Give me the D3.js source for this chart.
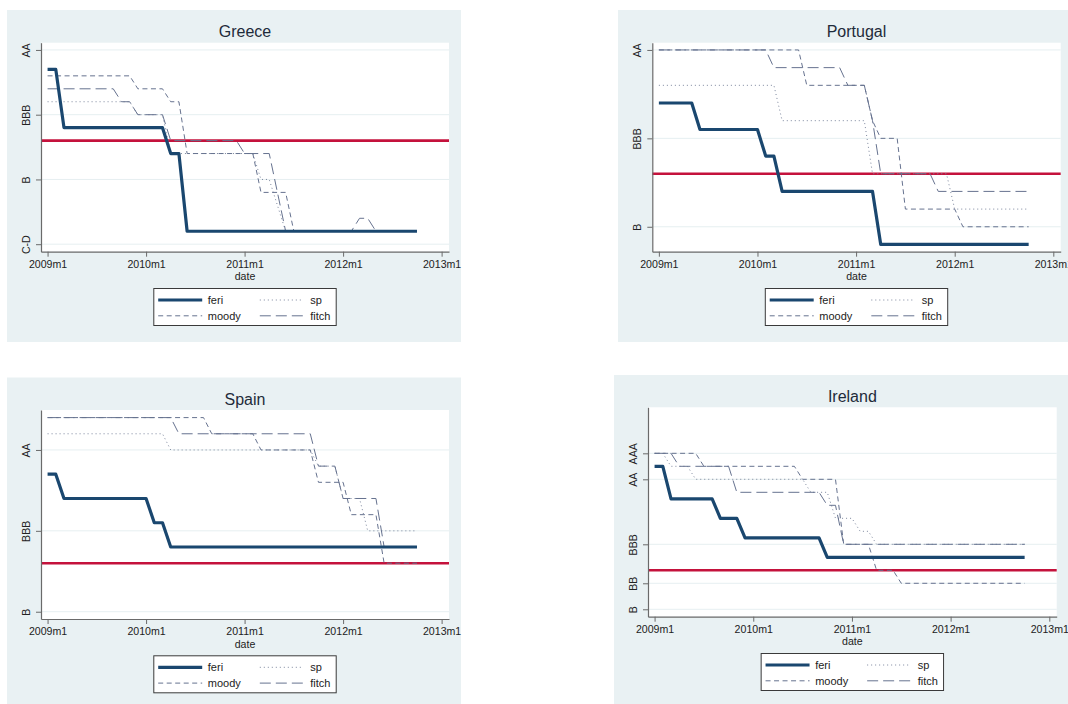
<!DOCTYPE html>
<html>
<head>
<meta charset="utf-8">
<script src="https://cdn.jsdelivr.net/npm/d3@7"></script>
<style>
  body { margin: 0; background: #fff; }
  text { font-family: "Liberation Sans", Arial, sans-serif; }
</style>
</head>
<body>
<svg id="chart" width="1068" height="704"></svg>
<script>
// Rating scale: AAA=22, AA+=21, AA=20, AA-=19, A+=18, A=17, A-=16, BBB+=15 ... BBB-=13 ...
// Each series is a list of [monthIndex, value] vertices, month 0 = 2009m1
const xTickMonths = [0, 12, 24, 36, 48];
const xTickLabels = ['2009m1', '2010m1', '2011m1', '2012m1', '2013m1'];
const seriesNames = ['feri', 'sp', 'moody', 'fitch'];
const threshold = 13; // BBB-

const greeceTicks = [[20, 'AA'], [15, 'BBB'], [10, 'B'], [5, 'C-D']];
const greeceFeri = [[0, 18.5], [1, 18.5], [2, 14], [14, 14], [15, 12], [16, 12], [17, 6], [45, 6]];
const greeceSp = [[0, 16], [10, 16], [11, 15], [14, 15], [15, 12], [25, 12], [26, 10], [27, 10], [28, 8], [29, 6], [45, 6]];
const greeceMoody = [[0, 18], [10, 18], [11, 17], [14, 17], [15, 16], [16, 16], [17, 12], [25, 12], [26, 9], [29, 9], [30, 6], [45, 6]];
const greeceFitch = [[0, 17], [8, 17], [9, 16], [10, 16], [11, 15], [14, 15], [15, 13], [23, 13], [24, 12], [27, 12], [28, 9], [29, 6], [37, 6], [38, 7], [39, 7], [40, 6], [45, 6]];

const portugalTicks = [[20, 'AA'], [15, 'BBB'], [10, 'B']];
const portugalFeri = [[0, 17], [4, 17], [5, 15.5], [12, 15.5], [13, 14], [14, 14], [15, 12], [26, 12], [27, 9], [45, 9]];
const portugalSp = [[0, 18], [14, 18], [15, 16], [25, 16], [26, 13], [35, 13], [36, 11], [45, 11]];
const portugalMoody = [[0, 20], [17, 20], [18, 18], [25, 18], [26, 16], [27, 15], [29, 15], [30, 11], [36, 11], [37, 10], [45, 10]];
const portugalFitch = [[0, 20], [13, 20], [14, 19], [22, 19], [23, 18], [25, 18], [26, 16], [27, 13], [33, 13], [34, 12], [45, 12]];

const spainTicks = [[20, 'AA'], [15, 'BBB'], [10, 'B']];
const spainFeri = [[0, 18.5], [1, 18.5], [2, 17], [12, 17], [13, 15.5], [14, 15.5], [15, 14], [45, 14]];
const spainSp = [[0, 21], [14, 21], [15, 20], [32, 20], [33, 19], [35, 19], [36, 17], [38, 17], [39, 15], [45, 15]];
const spainMoody = [[0, 22], [19, 22], [20, 21], [25, 21], [26, 20], [32, 20], [33, 18], [36, 18], [37, 16], [40, 16], [41, 13], [45, 13]];
const spainFitch = [[0, 22], [15, 22], [16, 21], [32, 21], [33, 19], [35, 19], [36, 17], [40, 17], [41, 14], [45, 14]];

const irelandTicks = [[22, 'AAA'], [20, 'AA'], [15, 'BBB'], [12, 'BB'], [10, 'B']];
const irelandFeri = [[0, 21], [1, 21], [2, 18.5], [7, 18.5], [8, 17], [10, 17], [11, 15.5], [20, 15.5], [21, 14], [45, 14]];
const irelandSp = [[0, 22], [1, 22], [2, 21], [4, 21], [5, 20], [18, 20], [19, 19], [21, 19], [22, 17], [24, 17], [25, 16], [26, 16], [27, 15], [45, 15]];
const irelandMoody = [[0, 22], [5, 22], [6, 21], [17, 21], [18, 20], [22, 20], [23, 15], [26, 15], [27, 13], [29, 13], [30, 12], [45, 12]];
const irelandFitch = [[0, 22], [2, 22], [3, 21], [9, 21], [10, 19], [20, 19], [21, 18], [22, 18], [23, 15], [45, 15]];

// layout: panel background and plot region in pixels, y range of the axis
const panels = [
  { name: 'Greece', ticks: greeceTicks, yRange: [4.42, 20.56],
    series: { feri: greeceFeri, sp: greeceSp, moody: greeceMoody, fitch: greeceFitch },
    bg: [7, 10, 454, 332], plot: [41, 42.7, 408, 209] },
  { name: 'Portugal', ticks: portugalTicks, yRange: [8.59, 20.41],
    series: { feri: portugalFeri, sp: portugalSp, moody: portugalMoody, fitch: portugalFitch },
    bg: [618, 10, 450, 332], plot: [652.3, 42.7, 408.4, 209] },
  { name: 'Spain', ticks: spainTicks, yRange: [9.55, 22.47],
    series: { feri: spainFeri, sp: spainSp, moody: spainMoody, fitch: spainFitch },
    bg: [7, 377.5, 454, 327], plot: [41, 410, 408, 209] },
  { name: 'Ireland', ticks: irelandTicks, yRange: [9.43, 25.54],
    series: { feri: irelandFeri, sp: irelandSp, moody: irelandMoody, fitch: irelandFitch },
    bg: [614, 375, 454, 329], plot: [648, 407.3, 408.7, 209.4] }
];

const styles = {
  feri: { color: '#1a476f', width: 3.2, dash: null },
  sp: { color: '#7c869d', width: 1, dash: '1,3' },
  moody: { color: '#66728f', width: 1, dash: '5,3.5' },
  fitch: { color: '#66728f', width: 1, dash: '11,5' }
};

const axisColor = '#6a6a6a';
const svg = d3.select('#chart');

const drawPanel = function(p) {
  const [bx, by, bw, bh] = p.bg;
  const [px, py, pw, ph] = p.plot;

  svg.append('rect').attr('x', bx).attr('y', by).attr('width', bw).attr('height', bh)
    .attr('fill', '#e9f1f3');

  const g = svg.append('g').attr('transform', `translate(${px},${py})`);
  g.append('rect').attr('width', pw).attr('height', ph).attr('fill', '#fff');

  const x = d3.scaleLinear().domain([-0.8, 48.9]).range([0, pw]);
  const y = d3.scaleLinear().domain(p.yRange).range([ph, 0]);

  // grid lines
  g.selectAll('.grid').data(p.ticks).enter().append('line')
    .attr('x1', 0).attr('x2', pw)
    .attr('y1', d => y(d[0])).attr('y2', d => y(d[0]))
    .attr('stroke', '#e6eff1').attr('stroke-width', 1);

  // investment grade line
  g.append('line')
    .attr('x1', 0).attr('x2', pw)
    .attr('y1', y(threshold)).attr('y2', y(threshold))
    .attr('stroke', '#c4123c').attr('stroke-width', 2.6);

  const line = d3.line().x(d => x(d[0])).y(d => y(d[1]));

  // feri last so it sits on top
  ['sp', 'moody', 'fitch', 'feri'].forEach(function(name) {
    const st = styles[name];
    g.append('path')
      .datum(p.series[name])
      .attr('d', line)
      .attr('fill', 'none')
      .attr('stroke', st.color)
      .attr('stroke-width', st.width)
      .attr('stroke-dasharray', st.dash)
      .attr('stroke-linejoin', 'round');
  });

  // x axis
  const xAxis = d3.axisBottom(x)
    .tickValues(xTickMonths)
    .tickFormat((d, i) => xTickLabels[i])
    .tickSize(5)
    .tickSizeOuter(0);
  const xg = g.append('g').attr('transform', `translate(0,${ph})`).call(xAxis);
  xg.select('.domain').attr('stroke', axisColor).attr('stroke-width', 1.2);
  xg.selectAll('.tick line').attr('stroke', axisColor);
  xg.selectAll('.tick text')
    .attr('y', 8.5)
    .attr('fill', '#222')
    .style('font-size', '10.6px')
    .style('font-family', '"Liberation Sans", Arial, sans-serif');

  // y axis
  const yAxis = d3.axisLeft(y)
    .tickValues(p.ticks.map(d => d[0]))
    .tickFormat(v => p.ticks.find(d => d[0] === v)[1])
    .tickSize(5)
    .tickSizeOuter(0);
  const yg = g.append('g').call(yAxis);
  yg.select('.domain').attr('stroke', axisColor).attr('stroke-width', 1.2);
  yg.selectAll('.tick line').attr('stroke', axisColor);
  yg.selectAll('.tick text')
    .attr('x', null).attr('dy', null)
    .attr('transform', 'translate(-11,0) rotate(-90)')
    .attr('text-anchor', 'middle')
    .attr('fill', '#222')
    .style('font-size', '10.6px')
    .style('font-family', '"Liberation Sans", Arial, sans-serif');

  // axis title
  g.append('text')
    .attr('x', pw / 2).attr('y', ph + 28.8)
    .attr('text-anchor', 'middle')
    .attr('fill', '#222')
    .style('font-size', '10.6px')
    .text('date');

  // panel title
  g.append('text')
    .attr('x', pw / 2).attr('y', -5.4)
    .attr('text-anchor', 'middle')
    .attr('fill', '#1e2b3a')
    .style('font-size', '16px')
    .text(p.name);

  // legend
  const lw = 182.4, lh = 37;
  const lg = g.append('g').attr('transform', `translate(${pw / 2 - lw / 2},${ph + 36.8})`);
  lg.append('rect').attr('width', lw).attr('height', lh)
    .attr('fill', '#fff').attr('stroke', '#3a3a3a').attr('stroke-width', 1);
  seriesNames.forEach(function(name, i) {
    const col = i % 2, row = Math.floor(i / 2);
    const cy = row === 0 ? 11.5 : 27.3;
    const x0 = col === 0 ? 4.4 : 106;
    const st = styles[name];
    lg.append('line')
      .attr('x1', x0).attr('x2', x0 + 44)
      .attr('y1', cy).attr('y2', cy)
      .attr('stroke', st.color)
      .attr('stroke-width', st.width)
      .attr('stroke-dasharray', st.dash);
    lg.append('text')
      .attr('x', col === 0 ? 54 : 156.5)
      .attr('y', cy + 3.9)
      .attr('fill', '#222')
      .style('font-size', '11px')
      .text(name);
  });
};

panels.forEach(drawPanel);
</script>
</body>
</html>
